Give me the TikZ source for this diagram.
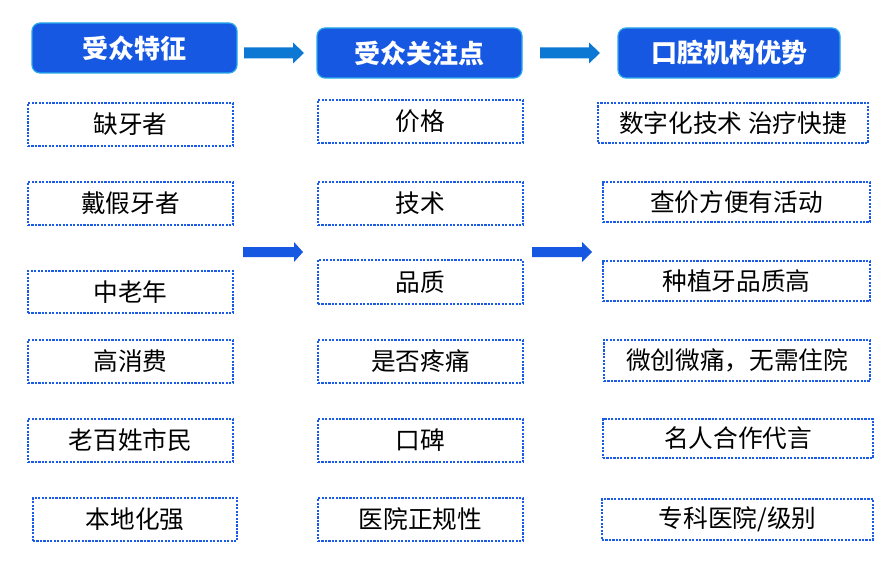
\documentclass[tikz,border=0pt]{standalone}
\usepackage{fontspec}
\setmainfont{Noto Sans CJK SC}
\definecolor{hdrfill}{RGB}{22,88,226}
\definecolor{hdredge}{RGB}{40,170,235}
\definecolor{dotblue}{RGB}{26,90,232}
\definecolor{arrtop}{RGB}{12,120,212}
\definecolor{arrmid}{RGB}{22,88,226}
\tikzset{
  hdr/.style={rounded corners=6pt, fill=hdrfill, draw=hdredge, line width=0.9pt,
    text=white, font=\fontsize{19.5}{22}\selectfont\bfseries, inner sep=0pt},
  itembox/.style={draw=dotblue, line width=1.8pt, dash pattern=on 1.6pt off 1pt,
    font=\fontsize{18.5}{20}\selectfont, inner sep=0pt},
}
% name, x1, y1, x2, y2, style, text
\newcommand\mybox[7]{\node[#6, minimum width={(#4-#2)*0.75pt}, minimum height={(#5-#3)*0.75pt}] (#1) at ({(#2+#4)/2},{(#3+#5)/2}) {#7};}
% start coord, length, shaft half, head half, head length, colour
\newcommand\blockarrow[6]{\fill[#6] (#1) ++(0,-#3) -- ++({#2-#5},0) -- ++(0,{-(#4-#3)}) -- ++(#5,#4) -- ++(-#5,#4) -- ++(0,{-(#4-#3)}) -- ++({-(#2-#5)},0) -- cycle;}
\begin{document}
\begin{tikzpicture}[x=0.75pt,y=-0.75pt]
\useasboundingbox (0,0) rectangle (888,560);
% headers
\mybox{h1}{32}{23}{237}{73}{hdr}{受众特征}
\mybox{h2}{317}{28}{522}{78}{hdr}{受众关注点}
\mybox{h3}{618}{28}{840}{78}{hdr}{口腔机构优势}
% column 1
\mybox{a1}{28}{103}{233}{146}{itembox}{缺牙者}
\mybox{a2}{28}{182}{233}{225}{itembox}{戴假牙者}
\mybox{a3}{28}{271}{233}{313}{itembox}{中老年}
\mybox{a4}{28}{340}{233}{383}{itembox}{高消费}
\mybox{a5}{28}{419}{233}{462}{itembox}{老百姓市民}
\mybox{a6}{33}{498}{237}{541}{itembox}{本地化强}
% column 2
\mybox{b1}{318}{100}{523}{143}{itembox}{价格}
\mybox{b2}{318}{182}{523}{225}{itembox}{技术}
\mybox{b3}{318}{260}{523}{304}{itembox}{品质}
\mybox{b4}{318}{340}{523}{383}{itembox}{是否疼痛}
\mybox{b5}{318}{419}{523}{462}{itembox}{口碑}
\mybox{b6}{318}{498}{523}{541}{itembox}{医院正规性}
% column 3
\mybox{c1}{598}{103}{868}{143}{itembox}{数字化技术 治疗快捷}
\mybox{c2}{603}{182}{870}{222}{itembox}{查价方便有活动}
\mybox{c3}{603}{261}{870}{301}{itembox}{种植牙品质高}
\mybox{c4}{604}{340}{870}{381}{itembox}{微创微痛，无需住院}
\mybox{c5}{603}{419}{873}{458}{itembox}{名人合作代言}
\mybox{c6}{602}{499}{873}{540}{itembox}{专科医院/级别}
% arrows
\coordinate (t1) at (244,53);
\coordinate (t2) at (540,53);
\coordinate (m1) at (243,252);
\coordinate (m2) at (532,252);
\blockarrow{t1}{60}{5.5}{10.5}{11}{arrtop}
\blockarrow{t2}{60}{5.5}{10.5}{11}{arrtop}
\blockarrow{m1}{60}{5}{10}{9}{arrmid}
\blockarrow{m2}{60}{5}{10}{10}{arrmid}
\end{tikzpicture}
\end{document}
